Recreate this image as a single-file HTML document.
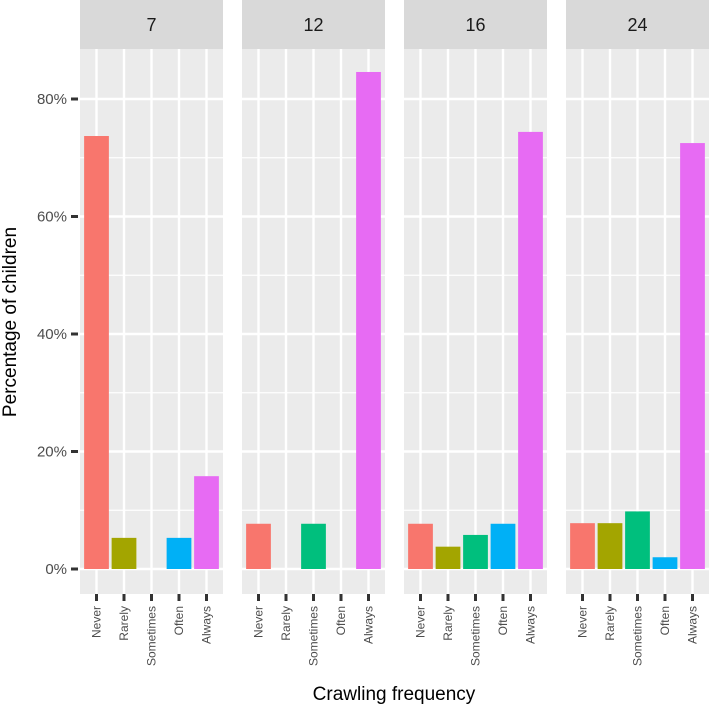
<!DOCTYPE html>
<html><head><meta charset="utf-8"><style>
body{margin:0;background:#fff}
svg{display:block;font-family:"Liberation Sans",Arial,sans-serif}
</style></head><body>
<svg id="chart" width="709" height="709"></svg>
<script>
const panels=["7","12","16","24"];
const categories=["Never","Rarely","Sometimes","Often","Always"];
const colors=["#F8766D","#A3A500","#00BF7D","#00B0F6","#E76BF3"];
const valuesP7=[73.7,5.3,0,5.3,15.8];
const valuesP12=[7.7,0,7.7,0,84.6];
const valuesP16=[7.7,3.8,5.8,7.7,74.4];
const valuesP24=[7.8,7.8,9.8,2.0,72.5];
const series=[valuesP7,valuesP12,valuesP16,valuesP24];
const yTicks=[0,20,40,60,80];
const yMinor=[10,30,50,70];
const NS="http://www.w3.org/2000/svg";
const svgEl=document.getElementById("chart");
const panelX=[80,242,404,566],pw=143,topY=49,bottomY=594;
const y=v=>569-v*5.875;
const xc=(p,i)=>panelX[p]+(i+0.6)*(pw/5.2);
const bw=0.9*pw/5.2;
function mk(t,a,parent){const e=document.createElementNS(NS,t);for(const k in a)e.setAttribute(k,a[k]);(parent||svgEl).appendChild(e);return e;}
panels.forEach((lab,p)=>{
  const g=mk("g",{});
  
  
  mk("rect",{x:panelX[p],y:topY,width:pw,height:bottomY-topY,fill:"#EBEBEB"},g);
  yMinor.forEach(v=>mk("line",{x1:panelX[p],x2:panelX[p]+pw,y1:y(v),y2:y(v),stroke:"#fff","stroke-width":1.2},g));
  yTicks.forEach(v=>mk("line",{x1:panelX[p],x2:panelX[p]+pw,y1:y(v),y2:y(v),stroke:"#fff","stroke-width":2.4},g));
  categories.forEach((c,i)=>mk("line",{x1:xc(p,i),x2:xc(p,i),y1:topY,y2:bottomY,stroke:"#fff","stroke-width":2.4},g));
  const s=mk("rect",{x:panelX[p],y:0,width:pw,height:topY,fill:"#D9D9D9"},g);
  
  
  const st=mk("text",{x:panelX[p]+pw/2,y:31,"text-anchor":"middle","font-size":18,fill:"#1A1A1A"},g);
  st.textContent=lab;
  
  
  series[p].forEach((v,i)=>{
    if(v>0){const r=mk("rect",{x:xc(p,i)-bw/2,y:y(v),width:bw,height:y(0)-y(v),fill:colors[i]},g);
    
    }
    mk("line",{x1:xc(p,i),x2:xc(p,i),y1:bottomY,y2:bottomY+7,stroke:"#333","stroke-width":3},g);
    const t=mk("text",{transform:`translate(${xc(p,i)+4},${bottomY+12}) rotate(-90)`,"text-anchor":"end","font-size":12,fill:"#4D4D4D"},g);
    t.textContent=categories[i];
    
    
  });
});
yTicks.forEach(v=>{
  mk("line",{x1:71,x2:78,y1:y(v),y2:y(v),stroke:"#333","stroke-width":3});
  const t=mk("text",{x:67,y:y(v)+5,"text-anchor":"end","font-size":15,fill:"#4D4D4D"});
  t.textContent=v+"%";
  
  
});
const yt=mk("text",{transform:"translate(16,322) rotate(-90)","text-anchor":"middle","font-size":19,fill:"#000"});
yt.textContent="Percentage of children";


const xt=mk("text",{x:394,y:700,"text-anchor":"middle","font-size":19,fill:"#000"});
xt.textContent="Crawling frequency";


</script>
</body></html>
